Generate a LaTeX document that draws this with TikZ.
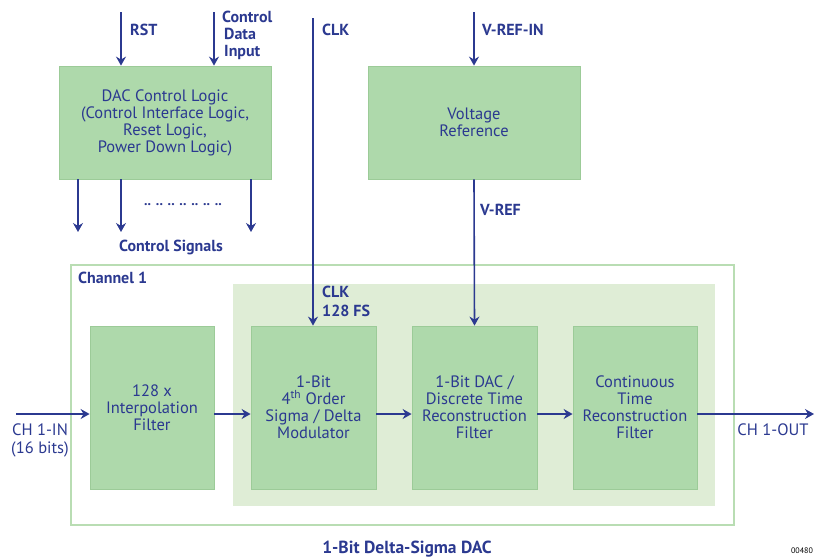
\documentclass[tikz,border=0pt]{standalone}
\usepackage{fontspec}
\setmainfont{PT Sans}
\usetikzlibrary{arrows.meta}
\definecolor{txt}{HTML}{2B3990}
\definecolor{boxfill}{HTML}{AED9AB}
\definecolor{boxline}{HTML}{9CCB98}
\definecolor{inner}{HTML}{DFEDD6}
\definecolor{chline}{HTML}{B9DDB3}
\tikzset{
  blk/.style={draw=boxline, line width=0.8pt, fill=boxfill, inner sep=0pt, align=center,
    text=txt, font=\fontsize{16.5}{17}\selectfont},
  arr/.style={draw=txt, line width=1.6pt, -{Stealth[length=9pt,width=10pt,inset=3pt]}},
  lbl/.style={text=txt, font=\fontsize{16}{17}\selectfont\bfseries, inner sep=0pt, align=left},
  lblr/.style={text=txt, font=\fontsize{16.5}{18}\selectfont, inner sep=0pt, align=center},
}
\begin{document}
\begin{tikzpicture}[x=1pt,y=-1pt]
\useasboundingbox (0,0) rectangle (816,558);
% channel frame and inner region
\node[draw=chline, line width=1.2pt, minimum width=663pt, minimum height=260pt, inner sep=0pt] (channel) at (402.5,395) {};
\node[fill=inner, minimum width=482pt, minimum height=222pt, inner sep=0pt] (innerreg) at (474,395) {};
\node[lbl, anchor=west] (chlbl) at (78,278) {Channel 1};
% top blocks
\node[blk, minimum width=212pt, minimum height=113pt] (ctrl) at (165,122.5)
  {DAC Control Logic\\(Control Interface Logic,\\Reset Logic,\\Power Down Logic)};
\node[blk, minimum width=212pt, minimum height=113pt] (vref) at (474,122.5)
  {Voltage\\Reference};
% channel blocks
\node[blk, minimum width=124pt, minimum height=163pt] (interp) at (152,407.5)
  {128 x\\Interpolation\\Filter};
\node[blk, minimum width=125pt, minimum height=163pt] (mod) at (313.5,407.5)
  {1-Bit\\4\textsuperscript{th} Order\\Sigma / Delta\\Modulator};
\node[blk, minimum width=125pt, minimum height=163pt] (dac) at (474.5,407.5)
  {1-Bit DAC /\\Discrete Time\\Reconstruction\\Filter};
\node[blk, minimum width=124pt, minimum height=163pt] (ctr) at (635,407.5)
  {Continuous\\Time\\Reconstruction\\Filter};
% top inputs
\coordinate (rst) at (121,12);
\coordinate (cdi) at (214,12);
\coordinate (clk) at (313,18);
\coordinate (vin) at (474,12);
\draw[arr] (rst) -- (rst |- ctrl.north);
\draw[arr] (cdi) -- (cdi |- ctrl.north);
\draw[arr] (clk) -- (clk |- mod.north);
\draw[arr] (vin) -- (vin |- vref.north);
\draw[arr] (vref.south) -- (dac.north);
\node[lbl, anchor=west] (rstl) at (130,30) {RST};
\node[lbl, anchor=north west] (cdil) at (222,11) {Control\\\hspace*{2pt}Data\\\hspace*{2pt}Input};
\node[lbl, anchor=west] (clkl) at (322,30) {CLK};
\node[lbl, anchor=west] (vinl) at (482,30) {V-REF-IN};
\node[lbl, anchor=west] (vrefl) at (480,210) {V-REF};
\node[lbl, anchor=north west, font=\fontsize{16}{19}\selectfont\bfseries] (clk2) at (322,286) {CLK\\128 FS};
% control signal outputs
\coordinate (c1) at (78,232);
\coordinate (c2) at (121,232);
\coordinate (c3) at (251,232);
\draw[arr] (c1 |- ctrl.south) -- (c1);
\draw[arr] (c2 |- ctrl.south) -- (c2);
\draw[arr] (c3 |- ctrl.south) -- (c3);
\node[text=txt, font=\fontsize{14}{16}\selectfont\bfseries, inner sep=0pt] (dots) at (183,205) {.. .. .. .. .. .. ..};
\node[lbl, anchor=center] (cs) at (171,247) {Control Signals};
% signal chain
\coordinate (in) at (16,414);
\coordinate (out) at (814,414);
\draw[arr] (in) -- (in -| interp.west);
\draw[arr] (interp.east |- in) -- (in -| mod.west);
\draw[arr] (mod.east |- in) -- (in -| dac.west);
\draw[arr] (dac.east |- in) -- (in -| ctr.west);
\draw[arr] (ctr.east |- in) -- (out);
\node[lblr, anchor=north] (inl) at (40,424) {CH 1-IN\\(16 bits)};
\node[lblr, anchor=north] (outl) at (773,424) {CH 1-OUT};
% title
\node[text=txt, font=\fontsize{17.5}{20}\selectfont\bfseries, inner sep=0pt] (title) at (407,549) {1-Bit Delta-Sigma DAC};
\node[font=\fontsize{8}{9}\selectfont, inner sep=0pt] (code) at (802,551) {00480};
\end{tikzpicture}
\end{document}
